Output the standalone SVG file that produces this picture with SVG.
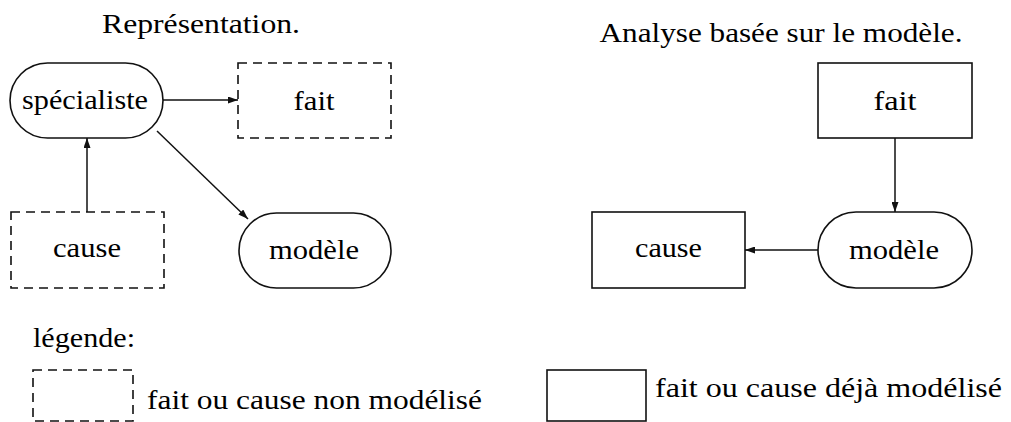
<svg xmlns="http://www.w3.org/2000/svg" width="1011" height="422" viewBox="0 0 1011 422">
<style>
text{font-family:"Liberation Serif","Times New Roman",serif;font-size:28px;fill:#000;}
.c{text-anchor:middle;}
.box{fill:none;stroke:#111;stroke-width:1.6;}
.dash{stroke-dasharray:9 6;}
.conn line{stroke:#111;stroke-width:1.5;marker-end:url(#ah);}
</style>
<defs>
<marker id="ah" markerUnits="userSpaceOnUse" markerWidth="10" markerHeight="7" refX="10" refY="3.5" orient="auto">
<path d="M0,0 L10,3.5 L0,7 z" fill="#111"/>
</marker>
</defs>
<rect width="1011" height="422" fill="#fff"/>
<text x="201" y="33" class="c" textLength="198" lengthAdjust="spacingAndGlyphs">Représentation.</text>
<text x="781" y="42" class="c" textLength="363" lengthAdjust="spacingAndGlyphs">Analyse basée sur le modèle.</text>

<g id="specialiste"><rect class="box" x="10" y="63" width="153" height="75" rx="37.5"/><text x="85" y="109" class="c" textLength="126" lengthAdjust="spacingAndGlyphs">spécialiste</text></g>
<g id="fait1"><rect class="box dash" x="238" y="63" width="153" height="75"/><text x="314" y="110" class="c" textLength="41" lengthAdjust="spacingAndGlyphs">fait</text></g>
<g id="cause1"><rect class="box dash" x="11" y="212" width="153" height="76"/><text x="87" y="257" class="c" textLength="68" lengthAdjust="spacingAndGlyphs">cause</text></g>
<g id="modele1"><rect class="box" x="239" y="213" width="152" height="75" rx="37.5"/><text x="314" y="259" class="c" textLength="90" lengthAdjust="spacingAndGlyphs">modèle</text></g>

<g id="fait2"><rect class="box" x="818" y="63" width="154" height="75"/><text x="895" y="110" class="c" textLength="43" lengthAdjust="spacingAndGlyphs">fait</text></g>
<g id="modele2"><rect class="box" x="818" y="212" width="154" height="76" rx="38"/><text x="894" y="259" class="c" textLength="90" lengthAdjust="spacingAndGlyphs">modèle</text></g>
<g id="cause2"><rect class="box" x="592" y="212" width="153" height="76"/><text x="668.5" y="257" class="c" textLength="67" lengthAdjust="spacingAndGlyphs">cause</text></g>

<g class="conn">
<line x1="163" y1="100" x2="238" y2="100"/>
<line x1="87" y1="212" x2="87" y2="138"/>
<line x1="157" y1="131" x2="248" y2="219"/>
<line x1="895" y1="138" x2="895" y2="212"/>
<line x1="818" y1="250" x2="745" y2="250"/>
</g>

<g id="legende">
<text x="33" y="347" textLength="102" lengthAdjust="spacingAndGlyphs">légende:</text>
<rect class="box dash" x="33" y="370" width="100" height="51"/>
<text x="147" y="409" textLength="335" lengthAdjust="spacingAndGlyphs">fait ou cause non modélisé</text>
<rect class="box" x="547" y="370" width="99" height="51"/>
<text x="655" y="397" textLength="347" lengthAdjust="spacingAndGlyphs">fait ou cause déjà modélisé</text>
</g>
</svg>
